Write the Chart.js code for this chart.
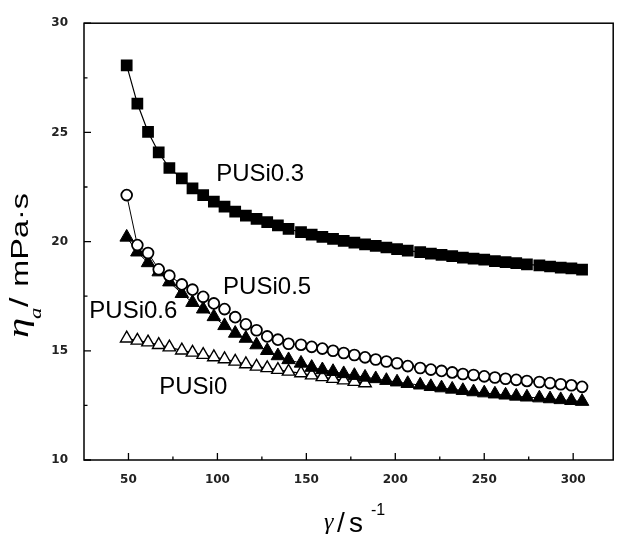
<!DOCTYPE html>
<html>
<head>
<meta charset="utf-8">
<script src="https://cdn.jsdelivr.net/npm/chart.js@4.4.1/dist/chart.umd.min.js"></script>
<style>
  html, body { margin: 0; padding: 0; background: #fff; }
  #wrap { width: 622px; height: 537px; }
</style>
</head>
<body>
<div id="wrap"><canvas id="viscosityChart" width="622" height="537"></canvas></div>
<script>
// shear rate, s^-1
const shearRate = [49, 55, 61, 67, 73, 80, 86, 92, 98, 104, 110, 116, 122, 128, 134, 140,
  147, 153, 159, 165, 171, 177, 183, 189, 195, 201, 207, 214, 220, 226, 232, 238, 244,
  250, 256, 262, 268, 274, 281, 287, 293, 299, 305];

// apparent viscosity, mPa·s
const pusi03 = [28.07, 26.32, 25.02, 24.08, 23.37, 22.89, 22.44, 22.13, 21.83, 21.60, 21.37,
  21.19, 21.04, 20.89, 20.74, 20.58, 20.43, 20.32, 20.22, 20.12, 20.03, 19.95, 19.87, 19.80,
  19.73, 19.66, 19.59, 19.52, 19.45, 19.39, 19.33, 19.27, 19.22, 19.17, 19.11, 19.06, 19.01,
  18.96, 18.91, 18.86, 18.81, 18.77, 18.72];
const pusi05 = [22.13, 19.84, 19.48, 18.73, 18.44, 18.04, 17.80, 17.47, 17.17, 16.91, 16.54,
  16.21, 15.94, 15.66, 15.51, 15.32, 15.28, 15.18, 15.10, 15.00, 14.90, 14.81, 14.70, 14.60,
  14.51, 14.43, 14.30, 14.21, 14.14, 14.08, 14.01, 13.94, 13.89, 13.83, 13.78, 13.72, 13.67,
  13.62, 13.57, 13.52, 13.47, 13.42, 13.35];
const pusi06 = [20.20, 19.52, 19.03, 18.61, 18.15, 17.62, 17.21, 16.91, 16.56, 16.15, 15.80,
  15.57, 15.27, 15.01, 14.77, 14.59, 14.43, 14.24, 14.13, 14.05, 13.95, 13.87, 13.79, 13.72,
  13.64, 13.57, 13.50, 13.43, 13.36, 13.30, 13.24, 13.18, 13.12, 13.07, 13.02, 12.97, 12.92,
  12.88, 12.84, 12.80, 12.76, 12.72, 12.68];
const pusi0 = [15.57, 15.47, 15.39, 15.27, 15.16, 15.02, 14.92, 14.82, 14.71, 14.62, 14.51,
  14.39, 14.28, 14.21, 14.13, 14.05, 13.98, 13.88, 13.80, 13.72, 13.65, 13.58, 13.52];

const xTicks = [50, 100, 150, 200, 250, 300];
const xMinorTicks = [75, 125, 175, 225, 275];
const yTicks = [10, 15, 20, 25, 30];
const yMinorTicks = [12.5, 17.5, 22.5, 27.5];

// curve names, anchored in data units (left end of baseline)
const curveNames = ['PUSi0.3', 'PUSi0.5', 'PUSi0.6', 'PUSi0'];
const curveNameX = [99.3, 103.2, 28.0, 67.3];
const curveNameY = [22.79, 17.62, 16.49, 13.04];

function toPoints(values) {
  return values.map((v, i) => ({ x: shearRate[i], y: v }));
}

const tickFont = { family: "DejaVu Sans", size: 12, weight: "bold" };

// frame, inward tick marks, curve names and axis titles
const decorations = {
  id: "decorations",
  afterDraw(chart) {
    const ctx = chart.ctx;
    const { left, right, top, bottom } = chart.chartArea;
    const xs = chart.scales.x;
    const ys = chart.scales.y;

    ctx.save();
    ctx.strokeStyle = "#000";
    ctx.lineWidth = 1.5;
    ctx.strokeRect(left, top, right - left, bottom - top);

    ctx.lineWidth = 1.3;
    ctx.beginPath();
    xTicks.forEach((v) => {
      const px = xs.getPixelForValue(v);
      ctx.moveTo(px, bottom); ctx.lineTo(px, bottom - 7);
    });
    xMinorTicks.forEach((v) => {
      const px = xs.getPixelForValue(v);
      ctx.moveTo(px, bottom); ctx.lineTo(px, bottom - 3.5);
    });
    yTicks.forEach((v) => {
      const py = ys.getPixelForValue(v);
      ctx.moveTo(left, py); ctx.lineTo(left + 7, py);
    });
    yMinorTicks.forEach((v) => {
      const py = ys.getPixelForValue(v);
      ctx.moveTo(left, py); ctx.lineTo(left + 3.5, py);
    });
    ctx.stroke();

    // curve names
    ctx.fillStyle = "#000";
    ctx.font = '24px "Liberation Sans"';
    ctx.textBaseline = "alphabetic";
    ctx.textAlign = "left";
    curveNames.forEach((name, i) => {
      ctx.fillText(name, xs.getPixelForValue(curveNameX[i]), ys.getPixelForValue(curveNameY[i]));
    });

    // y title: eta_a / mPa·s, stretched along its length
    ctx.save();
    ctx.translate(28, 338);
    ctx.rotate(-Math.PI / 2);
    ctx.scale(1.35, 1);
    ctx.font = 'italic 30px "Liberation Serif"';
    ctx.fillText("η", 0, 0);
    ctx.font = 'italic 17px "Liberation Serif"';
    ctx.fillText("a", 14, 13);
    ctx.font = '25px "Liberation Sans"';
    ctx.fillText("/", 23, 0);
    ctx.font = '24px "Liberation Sans"';
    ctx.fillText("mPa·s", 38, 0);
    ctx.restore();

    // x title: gamma / s^-1
    ctx.font = 'italic 24px "Liberation Serif"';
    ctx.fillText("γ", 324, 529);
    ctx.font = '28px "Liberation Sans"';
    ctx.fillText("/", 337, 532);
    ctx.fillText("s", 349, 532);
    ctx.font = '16px "Liberation Sans"';
    ctx.fillText("-1", 371, 515);
    ctx.restore();
  },
};

const chartData = {
  datasets: [
    {
      label: "PUSi0.5",
      data: toPoints(pusi05),
      order: 0,
      borderColor: "#000",
      borderWidth: 1,
      pointStyle: "circle",
      pointRadius: 5.4,
      pointBorderWidth: 1.8,
      pointBackgroundColor: "#fff",
      pointBorderColor: "#000",
    },
    {
      label: "PUSi0.6",
      data: toPoints(pusi06),
      order: 1,
      borderColor: "#000",
      borderWidth: 1,
      pointStyle: "triangle",
      pointRadius: 7.8,
      pointBorderWidth: 1,
      pointBackgroundColor: "#000",
      pointBorderColor: "#000",
    },
    {
      label: "PUSi0",
      data: toPoints(pusi0),
      order: 2,
      borderColor: "#000",
      borderWidth: 1.2,
      pointStyle: "triangle",
      pointRadius: 7.2,
      pointBorderWidth: 1.4,
      pointBackgroundColor: "#fff",
      pointBorderColor: "#000",
    },
    {
      label: "PUSi0.3",
      data: toPoints(pusi03),
      order: 3,
      borderColor: "#000",
      borderWidth: 1.2,
      pointStyle: "rect",
      pointRadius: 8.3,
      pointBorderWidth: 0,
      pointBackgroundColor: "#000",
      pointBorderColor: "#000",
    },
  ],
};

const chartConfig = {
  type: "line",
  data: chartData,
  options: {
    responsive: false,
    animation: false,
    events: [],
    layout: { padding: { top: 19, right: 2, left: 0, bottom: 0 } },
    elements: { line: { tension: 0, fill: false } },
    scales: {
      x: {
        type: "linear",
        min: 25,
        max: 322.5,
        grid: { display: false, drawTicks: false },
        border: { display: false },
        ticks: { font: tickFont, color: "#222", padding: 13, maxRotation: 0 },
        afterBuildTicks: (scale) => { scale.ticks = xTicks.map((v) => ({ value: v })); },
        afterFit: (scale) => { scale.height = 77; },
      },
      y: {
        type: "linear",
        min: 10,
        max: 30,
        grid: { display: false, drawTicks: false },
        border: { display: false },
        ticks: { font: tickFont, color: "#222", padding: 16 },
        afterBuildTicks: (scale) => { scale.ticks = yTicks.map((v) => ({ value: v })); },
        afterFit: (scale) => { scale.width = 84; },
      },
    },
    plugins: {
      legend: { display: false },
      title: { display: false },
      tooltip: { enabled: false },
    },
  },
  plugins: [decorations],
};

const viscosityChart = new Chart(document.getElementById("viscosityChart"), chartConfig);
</script>
</body>
</html>
